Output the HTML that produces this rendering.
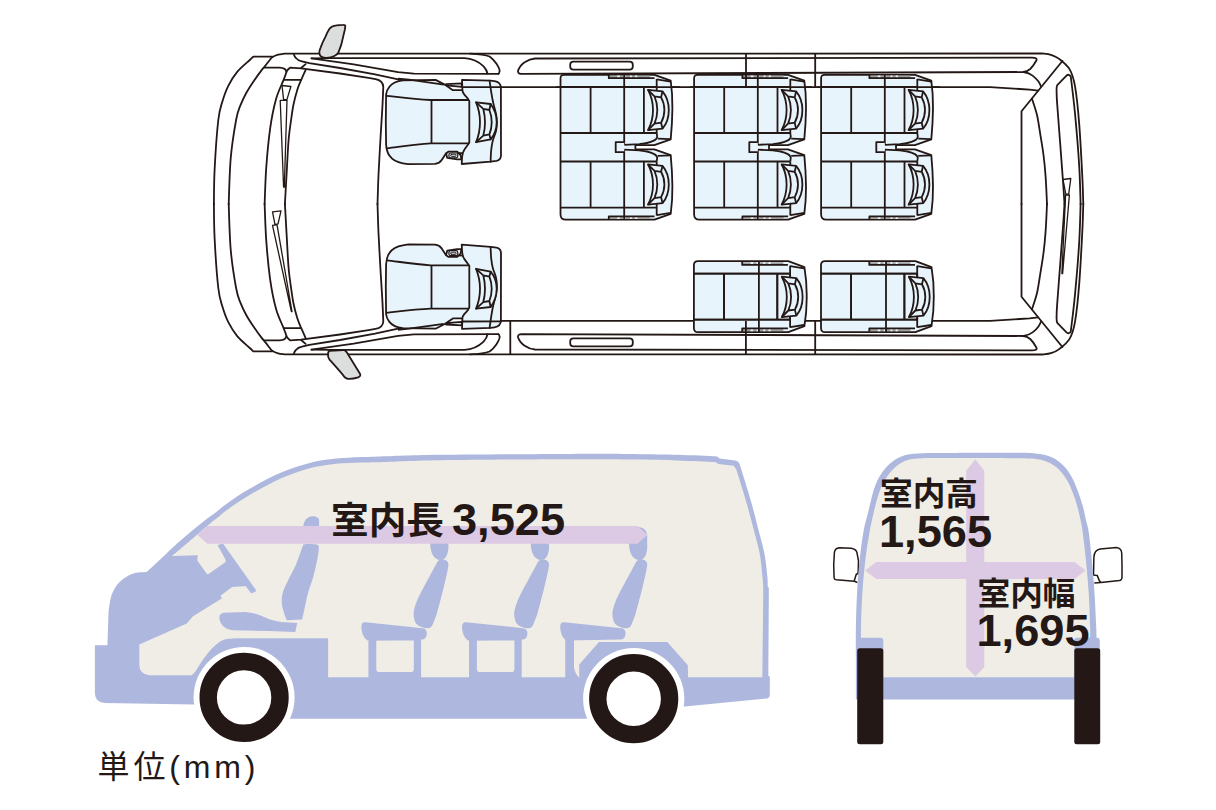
<!DOCTYPE html>
<html lang="ja"><head><meta charset="utf-8"><title>室内寸法</title>
<style>
html,body{margin:0;padding:0;background:#fff;font-family:"Liberation Sans",sans-serif;}
svg{display:block;}
</style></head>
<body>
<svg role="img" aria-label="室内寸法図: 室内長 3,525 / 室内高 1,565 / 室内幅 1,695 単位(mm)" width="1216" height="810" viewBox="0 0 1216 810">
<rect width="1216" height="810" fill="#fff"/>
<!-- ===== TOP VIEW ===== -->
<defs>
  <g id="halfbody" fill="none" stroke="#231815" stroke-width="1.8" stroke-linejoin="round" stroke-linecap="round">
    <!-- outermost bumper curve -->
    <path d="M213.9,204.3 C214,198.6 213.9,184.1 214.6,170 C215.3,155.9 217,131.4 218.3,120 C219.6,108.6 220.7,107.2 222.4,101.5 C224.1,95.8 225.8,90.8 228.3,85.9 C230.8,81 233.6,76.2 237.2,71.9 C240.8,67.6 247.1,62.5 249.8,60 C252.5,57.5 252.7,57.2 253.3,56.7 L272.4,56.7"/>
    <!-- body front edge + roof side line + rear corner -->
    <path d="M228.7,204.3 C229,196.7 229.5,172.6 230.7,158.5 C231.9,144.4 234.5,128.8 236.1,120 C237.7,111.2 238.5,110.4 240.2,105.9 C241.9,101.5 243.9,97.4 246.1,93.3 C248.3,89.2 251,85.2 253.5,81.5 C256,77.8 259,73.6 260.9,71.1 C262.8,68.6 263.3,68.2 264.8,66.4 C266.3,64.6 268.6,61.5 269.8,60 C271,58.5 270.8,58.1 272.2,57.2 C273.6,56.3 276,55.2 278.1,54.6 C280.2,54 283.7,53.8 284.8,53.6 L1042.4,53.5 L1042.4,53.5 C1043.8,53.7 1048.2,53.9 1051,54.8 C1053.8,55.7 1056.1,56.5 1059.2,58.9 C1062.3,61.3 1067.1,64.9 1069.7,69.4 C1072.3,74 1073.4,77.1 1075,86.2 C1076.6,95.3 1078,108.9 1079.2,123.9 C1080.4,138.9 1081.6,163 1082.3,176.4 C1083,189.8 1083.1,199.7 1083.3,204.3"/>
    <!-- hood line -->
    <path d="M264.4,67.6 L279.6,67.6 C283.5,67.7 286,69 286.4,71.8"/>
    <!-- third curve (cowl outer) -->
    <path d="M264.6,204.3 C264.9,198.3 265.3,181 266.2,168.4 C267.1,155.8 268.5,140.4 270.1,128.9 C271.7,117.4 273.8,107.3 276,99.3 C278.2,91.2 281.7,84.7 283.3,80.6 C284.9,76.5 285,76.3 285.6,74.6 C286.2,72.9 286.4,71.7 287.2,70.5 C288,69.3 289.7,68.2 290.2,67.7 L301.1,68.3 L340,73.5 L368.5,77.9 L375.5,79.1 C380.5,80 383.2,82.5 383.3,87 L383.3,87 C383.1,90.7 382.8,100.1 382.3,108.9 C381.8,117.7 381,129 380.4,140 C379.8,151 379,164.3 378.5,175 C378,185.7 377.7,199.4 377.5,204.3"/>
    <path d="M301.1,68 L305.6,64.1"/>
    <!-- cowl short line -->
    <path d="M284,79.8 L301.2,79.8"/>
    <!-- fourth curve (windshield base) + windshield top edge + right edge -->
    <path d="M284.9,204.3 C285.2,198.3 286.3,179.1 286.9,168.4 C287.5,157.7 287.9,148.2 288.6,140 C289.3,131.8 290.4,124.9 291.2,119.1 C292,113.3 292.4,110 293.4,105 C294.4,100 296,93.9 297.4,89.4 C298.8,85 300.5,81.5 301.9,78.3 C303.3,75.1 305,71.5 305.6,70.2"/>
    <!-- L2 : A pillar upper -->
    <path d="M293.6,53.8 C294.3,56 295,57.2 295.9,58 C297.5,59.9 299.5,60.8 301.9,61.3 L309.3,63.1 L340,68 L375,74.4 L402.8,80.4"/>
    <!-- front door window band -->
    <path d="M311.5,58.3 L353.7,64.4 L398.1,72.1 L413.9,73.7 L498.3,73.8"/>
    <path d="M311.5,58.3 L330,58.2 L464.6,58.2 C472,58.6 479,62 483.6,66.4 C486,69 487,71 487.5,73.7"/>
    <path d="M470,53.6 C480,54 486,55 489.6,56.5 C493,59 495,61.5 496.5,63.8 C498.5,67 500,69.5 499.6,71.2 C499.4,72.8 499,73.6 498.3,73.8"/>
    <!-- rear window band -->
    <path d="M535,58.5 L1031,57.6 C1035.5,57.4 1037.6,58.4 1036.2,60.8 C1034.3,64.3 1032.3,67 1030.2,69 C1028,71 1026,71.8 1023,72 L521,73.9 C518.5,73.8 517.6,72 518.2,70.2 C520,66 522.5,63.5 525.1,62 C528,60 531,58.8 535,58.5 Z"/>
    <!-- grab handle -->
    <rect x="570.2" y="61.6" width="62.6" height="8" rx="3.2"/>
    <!-- gutter curve at rear -->
    <path d="M1023.5,72 C1028,72.8 1030.8,74.2 1032.6,75.6 C1035,77.5 1037,79.5 1038.5,81.6 C1039.6,83.2 1040.4,84.8 1041,86.5"/>
    <!-- interior line -->
    <path d="M463,87.1 L990,87.2 L1019.8,89 L1029.6,89.6 L1038.2,90.7"/>
    <!-- rear diagonal + rear wall -->
    <path d="M1062.4,61 L1021.5,111.3 L1021.5,204.3"/>
    <!-- rear inner curve -->
    <path d="M1032,98.7 C1032.8,101.4 1035.6,109 1037,115 C1038.4,121 1039.2,127.7 1040.3,134.4 C1041.4,141.1 1042.6,148 1043.5,155 C1044.4,162 1045,168.2 1045.6,176.4 C1046.2,184.6 1046.8,199.7 1047,204.3"/>
    <!-- rear glass closed shape -->
    <path d="M1064.5,204.3 C1064.3,201.4 1064.1,196.7 1063.4,186.8 C1062.7,176.9 1061.3,158.9 1060.3,144.9 C1059.2,130.9 1057.7,111.7 1057.1,102.9 C1056.5,94.1 1056.7,93.8 1056.6,92 C1056.4,88 1056.6,86 1057.5,84.8 L1066.5,75.6 C1068,74.2 1069.8,74.6 1070.8,76.7 L1070.8,76.7 C1071.5,82.8 1073.6,98.5 1075,113.4 C1076.4,128.3 1078.3,150.8 1079.2,165.9 C1080.1,181.1 1080.4,197.9 1080.6,204.3"/>
  </g>
  <g id="mirrorT">
    <path fill="#dcdddd" stroke="#231815" stroke-width="1.8" stroke-linejoin="round" d="M319.3,52.5 C319.2,51 319.8,49.5 320.6,47.6 C322,43.5 323.8,40 325.5,36.7 C326.8,33.5 328,31 329.5,28.8 C331,26.8 333.5,25.7 336.4,25.4 C339,25 341.5,24.9 343.3,24.9 Q345.4,24.8 345.3,26.4 C345.2,27.6 345,28.8 344.8,29.8 L341.3,44.6 L338.4,52.5 C337.5,54.3 336,55.3 334.4,56 C332,57.2 329,57.8 326.5,57.9 C324.5,57.9 322.8,57.6 321.6,56.9 C320,56 319.4,54.3 319.3,52.5 Z"/>
  </g>
</defs>
<g id="topview">
  <use href="#halfbody"/>
  <use href="#halfbody" transform="matrix(1 0 0 -1 0 408)"/>
  <!-- bottom-side sliding door front edge -->
  <path fill="none" stroke="#231815" stroke-width="1.8" d="M510.3,321 L510.3,354.4"/>
  <!-- ===== front seat (driver, top) ===== -->
  <defs>
  <g id="fseat" stroke="#231815" stroke-width="1.8" stroke-linejoin="round" stroke-linecap="round">
    <!-- cushion -->
    <path fill="#e8f4fc" d="M470,90.2 L452.9,90.2 L444.7,84.6 L435.6,79.9 L402.8,80.4 C396,81.2 391.5,84 389.4,86.7 C387.3,89.3 386.3,91.8 386.1,94.4 L385.8,122 L386.1,144.4 C386.4,149.5 387.5,153 389.4,155.6 C392,159.5 397,162.4 402.8,163.3 L408.3,164.2 L435,163.9 C438.5,163.5 440.5,161.8 441.7,160 L446.1,153.3 L470,153 Z"/>
    <!-- lever wedge -->
    <path fill="#e8f4fc" d="M446,84.1 L461.8,83.3 L461.8,86.8 L448.8,85.7 Z"/>
    <!-- bolster lines -->
    <path fill="none" d="M386.6,95.8 C400,97.3 415,99.3 430.6,100 L468.6,100 M387,148.3 C400,146.7 415,144.2 430.6,143.3 L468.6,143.3 M431.5,100 L431.5,143.3"/>
    <!-- buckle -->
    <path fill="#e8f4fc" d="M446.1,153.5 L448.3,151.7 L457.2,151.7 L460.6,155 L461.4,159.4 L457.2,159.4 L447.2,157.9 Z"/>
    <rect x="448.9" y="153" width="8.9" height="4.9" rx="1.8" fill="#e8f4fc" stroke-width="1.2"/>
    <rect x="450.6" y="154.2" width="5.5" height="2.2" rx="1" fill="#c9caca" stroke-width="0.9"/>
    <!-- seat back -->
    <path fill="#e8f4fc" d="M462,79.8 L490.5,80.7 L494.5,81.2 C498.8,81.8 500.8,84 500.9,88 L501,155.5 C500.8,158.8 499.2,160.4 496.5,160.9 L490.6,161.7 L461.7,164 L462.1,157 C462.3,154 463,151.5 464.6,149.2 L469.3,142.8 L469.3,101 C468,98 466,96.4 464.6,94.9 C463,93 462.4,91.5 462.4,90 Z"/>
    <path fill="none" d="M462.3,87.1 L500.9,87.2"/>
    <path fill="none" d="M489.6,80.7 C489.9,82.8 490.8,89.4 491.4,93.2 C492,97 492.5,99.8 493.3,103.3 C494.1,106.8 495.4,110.8 496,114 C496.6,117.2 496.9,119.4 496.9,122.2 C496.9,125 496.7,127.9 496,131 C495.3,134.1 493.6,137.4 492.8,140.6 C492,143.8 491.6,146.5 491.2,150 C490.8,153.5 490.7,159.8 490.6,161.7"/>
  </g>
  <g id="fhead" stroke="#231815" stroke-width="1.8" stroke-linejoin="round" stroke-linecap="round">
    <!-- headrest -->
    <path fill="#e8f4fc" d="M476.1,102.4 L490.6,104 C494.5,109 496.6,115 496.7,122.2 C496.6,129 494.5,135 490.6,139.4 L476.1,142.2 C478.8,135.5 480,129 480,122.2 C480,115.5 478.8,109 476.1,102.4 Z"/>
    <path fill="none" d="M483.3,108.9 L489.4,110 C491,114 491.7,118 491.7,122.2 C491.7,126.5 491,130.5 489.4,134.4 L483.3,135.6 C484.5,131 485,126.5 485,122.2 C485,118 484.5,113.5 483.3,108.9 Z M476.1,102.4 L483.3,108.9 M476.1,142.2 L483.3,135.6 M490.6,104 L489.4,110 M490.6,139.4 L489.4,134.4"/>
  </g>
  <!-- ===== rear seat half (local coords, origin = top-left of seat) ===== -->
  <g id="rs-lines" fill="none" stroke="#231815" stroke-width="1.8" stroke-linejoin="round" stroke-linecap="butt">
    <!-- rail bar -->
    <path fill="#9fa0a0" stroke="none" d="M48.6,0.8 H89.4 V3.1 H48.6 Z"/>
    <path stroke="none" fill="#e8f4fc" d="M56.7,0.6 h2.6 v3 h-2.6z M62.7,0.6 h2.4 v3 h-2.4z M69.5,0.6 h1.8 v3 h-1.8z M74.6,0.6 h2.2 v3 h-2.2z"/>
    <path d="M48.3,0 V3.4 H94"/>
    <!-- cushion lines -->
    <path d="M0,12.1 H96.2 M0,58.2 H96.2 M30.1,12.1 V58.2 M83.4,12.1 V58.2"/>
    <!-- seat back right boundary -->
    <path d="M96.2,4.2 V58.2"/>
    <path d="M96.2,4.6 L110.2,6.8"/>
  </g>
  <g id="rs-head" fill="none" stroke="#231815" stroke-width="1.8" stroke-linejoin="round">
    <!-- headrest -->
    <path fill="#e8f4fc" d="M87.5,15 L102,16.5 C106.2,21.5 108.3,28 108.3,35.2 C108.3,42.5 106.2,49 102,53.9 L87.5,55.4 C91,49 92.5,42.5 92.5,35.2 C92.5,28 91,21.5 87.5,15 Z"/>
    <path d="M94,21.6 L100.6,22.6 C102.8,26.5 103.9,30.8 103.9,35.2 C103.9,39.8 102.8,44 100.6,47.9 L94,48.8 C95.9,44.5 96.8,40 96.8,35.2 C96.8,30.5 95.9,26 94,21.6 Z M87.5,15 L94,21.6 M87.5,55.4 L94,48.8 M102,16.5 L100.6,22.6 M102,53.9 L100.6,47.9"/>
  </g>
  <!-- double seat: origin top-left -->
  <g id="dseat">
    <path fill="#e8f4fc" stroke="#231815" stroke-width="1.8" stroke-linejoin="round" d="M0,3.5 Q0,0 3.5,0 H94 L110.2,5.9 C111.5,15 112,24 111.9,33.6 C111.8,44 111.2,54 110.2,64.5 L93.8,70.4 H74.9 V74.5 H93.8 L110.2,80.4 C111.2,91 111.8,101 111.9,111.3 C112,121 111.5,130 110.2,139 L94,144.9 H5.2 Q0,144.9 0,139.7 Z"/>
    <use href="#rs-lines"/>
    <use href="#rs-lines" transform="matrix(1 0 0 -1 0 144.9)"/>
    <use href="#rs-head"/>
    <use href="#rs-head" transform="matrix(1 0 0 -1 0 144.9)"/>
    <g fill="none" stroke="#231815" stroke-width="1.8" stroke-linejoin="round">
      <!-- seat back front line -->
      <path d="M63.7,0 V70 M63.7,74.9 V144.9"/>
      <!-- seat back lower curves -->
      <path d="M96.2,58.2 L96.7,62.2 C96,64.2 95,65 93.8,65.6 C91,67 89,67.6 86.4,68.2 C84,68.8 81.5,69 78.9,69.3 L63.7,70"/>
      <path d="M96.2,86.7 L96.7,82.7 C96,80.7 95,79.9 93.8,79.3 C91,77.9 89,77.3 86.4,76.7 C84,76.1 81.5,75.9 78.9,75.6 L63.7,74.9"/>
      <path d="M97.1,63.8 L110,64.3 M97.1,81.1 L110,80.6"/>
      <!-- connector -->
      <path fill="#e8f4fc" d="M63.7,67.4 H55.2 V77.4 H63.7"/>
    </g>
  </g>
  <!-- single seat -->
  <g id="sseat">
    <path fill="#e8f4fc" stroke="#231815" stroke-width="1.8" stroke-linejoin="round" d="M0,4 Q0,0 4,0 H94.4 L110.5,6 C112.2,16 112.9,26 112.8,35.5 C112.9,45 112.2,55 110.5,65.1 L94.4,71.1 H4 Q0,71.1 0,67.1 Z"/>
    <g transform="translate(0,0.4)"><use href="#rs-lines"/></g>
    <g transform="matrix(1 0 0 -1 0 70.7)"><use href="#rs-lines"/></g>
    <g transform="translate(0.4,0.6)"><use href="#rs-head"/></g>
    <path fill="none" stroke="#231815" stroke-width="1.8" d="M65,0 V71.1"/>
  </g>
  </defs>
  <use href="#fseat"/>
  <use href="#fhead"/>
  <use href="#fseat" transform="matrix(1 0 0 -1 0 408.6)"/>
  <use href="#fhead" transform="matrix(1 0 0 -1 0 411)"/>
  <use href="#dseat" x="560.5" y="74.8"/>
  <use href="#dseat" x="694.1" y="74.8"/>
  <use href="#dseat" x="821.1" y="74.8"/>
  <use href="#sseat" x="693.9" y="261.1"/>
  <use href="#sseat" x="821" y="261.1"/>
  <!-- lines drawn over seats -->
  <g fill="none" stroke="#231815" stroke-width="1.8">
    <path d="M746,53.6 V87.1 M815.2,53.6 V87.1 M745.9,321 V354.3 M815.2,321 V354.3"/>
    <path d="M556,87.2 H680 M690,87.2 H812 M817,87.2 H940"/>
    <path d="M398,78.6 L409.1,79.7 L443.7,84.6 M398,329.8 L409.1,328.7 L443.7,323.8"/>
  </g>
  <!-- wipers -->
  <g id="wiper" fill="none" stroke="#231815" stroke-width="1.3" stroke-linejoin="round">
    <path d="M282,85.5 L290.9,86.5 L286.9,99.6 L283.6,99.6 Z"/>
    <path d="M280.2,100.3 L287,100.3 L284.3,187.2 L283.6,187.2 Z"/>
  </g>
  <g fill="none" stroke="#231815" stroke-width="1.3" stroke-linejoin="round">
    <path d="M272.5,211.8 L281,210.9 L278,223.9 L275,224.6 Z"/>
    <path d="M272.5,225.3 L277,224.7 L292,311.5 L291.4,311.5 Z"/>
  </g>
  <!-- rear wiper -->
  <g fill="none" stroke="#231815" stroke-width="1.3" stroke-linejoin="round">
    <path d="M1063,179.5 L1070.8,178.5 L1068.7,194.2 L1065.8,194.2 Z"/>
    <path d="M1065.6,195 L1069.4,195 L1062.6,273.6 L1061.9,273.6 Z"/>
  </g>
  <use href="#mirrorT"/>
  <path fill="#dcdddd" stroke="#231815" stroke-width="1.8" stroke-linejoin="round" d="M329.4,350.9 L343.5,350 C345,349.9 345.9,350.6 346.6,352 L360,373.8 C360.8,375.5 360.2,376.6 358.1,377.4 C355,378.5 351.5,379 348.2,378.9 C346,378.8 344.6,377.3 343.3,375.4 C338,369 333,363.5 329.5,359.6 C328.2,358 327.8,356.5 328,354.7 C328,353 328.3,351.3 329.4,350.9 Z"/>
</g>
<!-- ===== SIDE VIEW ===== -->
<g id="side">
  <!-- body silhouette -->
  <path fill="#aeb8de" d="M94.9,692 L94.9,645.2 L107.4,645.2 L108.6,611 L108.6,611 C109.1,608.3 109.9,599.6 111.7,594.8 C113.5,590 116.1,585.5 119.6,582 C123.1,578.5 128,575.4 132.5,573.8 C137,572.1 144.3,572.4 146.7,572.1 L146.7,572.1 C150.1,568.9 161.6,558.1 167,553 C172.4,547.9 175.3,545.3 179.4,541.6 C183.5,537.9 187.6,534.5 191.7,531 C195.8,527.5 200,524.1 204.1,520.9 C208.2,517.7 212.9,514.5 216.4,511.9 C219.9,509.2 221.5,507.6 225,505 C228.5,502.4 233.2,498.9 237.3,496.2 C241.4,493.5 245.6,491.2 249.7,488.8 C253.8,486.4 257.9,484 262,481.8 C266.1,479.6 270.3,477.5 274.4,475.6 C278.5,473.7 282.6,471.9 286.7,470.3 C290.8,468.7 295,467.3 299.1,466 C303.2,464.7 307.3,463.5 311.4,462.5 C315.5,461.5 319.7,460.8 323.8,460.1 C327.9,459.5 332,459 336.1,458.6 C340.2,458.2 344.4,457.9 348.5,457.7 C352.6,457.4 356.4,457.3 360.8,457.1 C365.2,456.9 361.8,457.1 375,456.7 C388.2,456.3 407.5,455.3 440,454.8 C472.5,454.3 536.7,454 570,453.9 C603.3,453.8 622.2,454 640,454.2 C657.8,454.4 664.1,454.4 677,454.8 C689.9,455.2 710.5,456.1 717.2,456.4 L719.6,458.5 L735.1,460.4 Q738.6,461 739.4,463.5 L742.5,473.3 L742.5,473.3 C743.9,478 748.4,492.2 751.1,501.7 C753.8,511.1 756.3,521.4 758.5,530 C760.7,538.6 762.9,545.7 764.4,553.5 C765.9,561.3 766.9,571.5 767.4,576.9 C767.9,582.3 767.6,584.5 767.6,586 L768.8,588 L768.8,600 L768.3,675.8 L769.8,676.8 L769.8,694.5 Q769.8,698.2 766.7,698.5 L684.6,706.4 L640,706.4 L640,718.8 L240,718.8 L240,704.6 L194,704.6 L104.8,702.9 C98,702.4 95,699 94.9,692.5 Z"/>
  <!-- interior -->
  <path fill="#f0ede6" d="M172,556 C176.2,552.4 192,539 197.3,534.4 C202.7,529.8 200.9,531.1 204.1,528.5 C207.3,525.9 212.9,521.4 216.4,518.6 C219.9,515.8 221.5,514.1 225,511.5 C228.5,508.9 233.2,505.6 237.3,502.8 C241.4,500.1 245.6,497.5 249.7,495 C253.8,492.5 257.9,490.2 262,488 C266.1,485.8 270.3,483.5 274.4,481.5 C278.5,479.5 282.6,477.8 286.7,476.1 C290.8,474.4 295,472.9 299.1,471.5 C303.2,470.1 307.3,468.8 311.4,467.8 C315.5,466.8 319.7,466.1 323.8,465.4 C327.9,464.7 332,464.2 336.1,463.8 C340.2,463.4 344.4,463.2 348.5,463 C352.6,462.8 356.4,462.6 360.8,462.5 C365.2,462.4 361.8,462.7 375,462.3 C388.2,461.9 407.5,460.7 440,460.2 C472.5,459.7 536.7,459.3 570,459.2 C603.3,459.1 622.2,459.3 640,459.5 C657.8,459.7 664.5,460 677,460.4 C689.5,460.8 708.9,461.7 715.3,462 L718.4,464.1 L733.8,465.7 L736.3,469.6 L736.3,469.6 C737.9,475 743.3,491.6 746.2,501.7 C749.1,511.8 751.5,521.4 753.8,530 C756,538.6 758.2,545.7 759.7,553.5 C761.2,561.3 761.9,571.4 762.5,576.9 C763.1,582.4 763.1,584.7 763.2,586.3 L763.2,600 L762.3,677.3
   L688.1,677.3 L687.8,665.2 L667.3,642 L599,642 L579.2,664.6 L579.2,677.3
   L328.1,677.3 L328.1,638.3 L237,638.3 L237,638.3 C234.7,638.6 227.2,638.5 223.3,640 C219.4,641.5 216.8,643.9 213.5,647 C210.2,650.1 206.6,654.8 203.6,658.8 C200.6,662.8 197.7,668.3 195.7,671 C193.7,673.7 192.4,674.5 191.7,675.2 L149.6,675.2 Q139.3,674.8 139.3,664.6 L139.3,644.6
   L186.8,623.5 L192.7,616.5 L222,598.2 L220.4,595.8 L232.2,587 L247,586 L217.7,545.3 L225.2,559 Q226.5,561.3 224.5,562.8 L209,573.8 Q207.5,574.8 206.4,573.2 L197.8,561.2 Q197.2,560.3 197.3,559 L197.7,555.2 Z"/>
  <!-- steering wheel -->
  <path fill="#aeb8de" d="M217.5,544.9 L223.1,543.7 L255.6,589.4 Q256.5,590.9 255.2,591.8 L252.6,593 Q251.2,593.5 250.3,592.2 L245.3,585.7 L226,559 Z"/>
  <!-- front seat cushion -->
  <path fill="#aeb8de" d="M219.4,618.3 C219.4,614.5 221,613 224,612.7 L244.1,612 C249,612.2 253,613 256.4,614.1 C261,615.8 265,617.7 268.8,619 C273,620.4 277,621.5 281.1,622.1 L297.2,623 L295.3,632 L268.8,631.1 L233,630.2 C226,629.8 220,625.5 219.4,618.3 Z"/>
  <!-- front seat back -->
  <path fill="#aeb8de" d="M286.7,620.2 C286.2,618.8 284.4,614.7 283.6,611.6 C282.8,608.5 281.8,605 281.7,601.7 C281.6,598.4 281.9,595.6 283,591.9 C284.1,588.2 286.4,584 288.5,579.5 C290.6,575 293.5,570.2 295.9,564.7 C298.3,559.2 301.3,549.6 302.7,546.2 C304.1,542.8 303.8,544.8 304.5,544.4 C305.2,544 305.1,543.7 307,543.7 C308.9,543.7 313.9,544 315.7,544.3 C317.5,544.6 317.5,545 318,545.5 C318.5,546 318.9,545.2 318.8,547.4 C318.7,549.6 318.4,553.6 317.5,558.5 C316.6,563.4 314.7,571.4 313.2,577 C311.7,582.6 309.6,587.2 308.3,591.9 C307,596.6 306.2,600.8 305.2,605.4 C304.2,610 302.6,617.2 302.1,619.6 Z"/>
  <!-- front headrest -->
  <path fill="#aeb8de" d="M303.3,527 C303.6,520.5 307,516.6 312.2,516.2 C316.5,516 319.2,517.8 319.1,520.5 L319.1,530 L303.3,530 Z"/>
  <!-- rear seats -->
  <g id="rseat2">
    <path fill="#aeb8de" d="M430.2,536 C430.2,530.5 434,527 439.3,527 C444.6,527 448.4,530.5 448.4,536 L448.4,543 C448.8,549 448,553 446.5,556 C445,558.8 443,559.9 440.5,559.9 C437.5,559.9 435,558.5 433,555.5 C431,552 430.2,548 430.2,543 Z"/>
    <path fill="#aeb8de" d="M436.5,563.5 C438,560 441,558.8 443.5,559.5 C447,560 448.8,562.5 448.4,565.4 C446,580 441,598 436.5,614.8 L432.6,624.7 C431.5,627.5 429,628.6 426.7,628.2 C420,627.5 415.6,624.5 414.8,620.7 C413.6,617.5 413.4,614.5 413.8,610.9 C415.5,603 419,596 422.7,589.1 Z"/>
    <path fill="#aeb8de" d="M361.5,628.6 C361,624 362.5,622 365.4,622.3 L422.7,628.2 C426,628.8 427.3,631.5 426.7,634.6 C426.3,637.5 424.8,639.3 422.7,639.5 L367.4,640.5 C363.5,638 362,633.5 361.5,628.6 Z"/>
    <path fill="#aeb8de" fill-rule="evenodd" d="M368.4,638 L421.1,638 L421.1,678 L368.4,678 Z M376.3,640.5 L413.8,640.5 L413.8,669 Q413.8,672.1 410.8,672.1 L379.3,672.1 Q376.3,672.1 376.3,669 Z"/>
  </g>
  <use href="#rseat2" x="100.6"/>
  <!-- 4th row -->
  <g transform="translate(198.8,0)">
    <path fill="#aeb8de" d="M430.2,536 C430.2,530.5 434,527 439.3,527 C444.6,527 448.4,530.5 448.4,536 L448.4,543 C448.8,549 448,553 446.5,556 C445,558.8 443,559.9 440.5,559.9 C437.5,559.9 435,558.5 433,555.5 C431,552 430.2,548 430.2,543 Z"/>
    <path fill="#aeb8de" d="M436.5,563.5 C438,560 441,558.8 443.5,559.5 C447,560 448.8,562.5 448.4,565.4 C446,580 441,598 436.5,614.8 L432.6,624.7 C431.5,627.5 429,628.6 426.7,628.2 C420,627.5 415.6,624.5 414.8,620.7 C413.6,617.5 413.4,614.5 413.8,610.9 C415.5,603 419,596 422.7,589.1 Z"/>
    <path fill="#aeb8de" d="M361.5,628.6 C361,624 362.5,622 365.4,622.3 L422.7,628.2 C426,628.8 427.3,631.5 426.7,634.6 C426.3,637.5 424.8,639.3 422.7,639.5 L367.4,640.5 C363.5,638 362,633.5 361.5,628.6 Z"/>
    <path fill="#aeb8de" d="M366.4,638 L375.2,638 L375.2,668 C376,672 378,675 380.5,678 L366.4,678 Z"/>
  </g>
  <!-- arrow -->
  <path fill="#dcc9e3" d="M197.3,534.8 L207.4,526 L637.5,526 L647.6,534.8 L637.5,543.7 L207.4,543.7 Z"/>
  <!-- wheels -->
  <circle cx="244.1" cy="697.4" r="50.5" fill="#fff"/>
  <circle cx="633.7" cy="698.7" r="50.6" fill="#fff"/>
  <circle cx="244.1" cy="697.4" r="35.9" fill="none" stroke="#231815" stroke-width="17.4"/>
  <circle cx="633.7" cy="698.7" r="35.9" fill="none" stroke="#231815" stroke-width="17.4"/>
</g>
<!-- ===== REAR VIEW ===== -->
<g id="rear">
  <!-- mirrors -->
  <path fill="#fff" stroke="#231815" stroke-width="1.5" stroke-linejoin="round" d="M839.3,547.7 L851.1,548.3 C854.5,549 856.6,550.5 857,552.8 L858.5,560.9 L858.1,573.5 L856.3,574.3 L854.4,580.2 L854.4,581.3 L836.3,579.8 C835,579.6 834.2,579 834.1,578 L833.7,564.6 L834.4,552.4 C834.8,549.5 836.5,548 839.3,547.7 Z M854.4,581.3 L857.4,582.5"/>
  <path fill="#fff" stroke="#231815" stroke-width="1.5" stroke-linejoin="round" d="M1100.2,549.1 L1116.5,547.6 C1119.5,548 1121.5,550 1121.7,553 L1122,564.6 L1122,577.5 C1121.8,579.5 1120.8,580.4 1119.4,580.6 L1100.9,582.4 L1099.4,580.9 L1097.2,575.4 L1093.5,575 L1093.9,557.2 C1094.2,552.5 1096.5,549.8 1100.2,549.1 Z M1100.9,582.4 L1094.3,583.1"/>
  <!-- body -->
  <path fill="#aeb8de" d="M855.9,699.5 L855.9,660 C855.9,654.4 855.7,637.3 855.9,626.3 C856.1,615.3 856.4,604.9 857,594.2 C857.6,583.5 858.3,572.5 859.4,562.1 C860.5,551.7 861.9,540.4 863.4,532 C864.9,523.6 866.5,518.8 868.3,511.7 C870,504.6 871.8,495.7 873.9,489.4 C876,483.1 878,478.5 881.1,473.9 C884.2,469.3 888.1,464.8 892.2,461.7 C896.3,458.6 900.6,456.4 905.6,455 C910.6,453.6 916.5,453.6 922.2,453.3 C927.9,453 924.5,453.1 940,453 C955.5,452.9 998.8,452.7 1015,452.8 C1031.2,452.9 1031.1,453 1037.2,453.7 C1043.3,454.4 1047.4,455.3 1051.7,457.2 C1056,459.1 1059.7,462 1062.8,465 C1065.9,468 1068.2,470.9 1070.6,475 C1073,479.1 1075.2,484.2 1077.2,489.4 C1079.2,494.6 1081.3,500.9 1082.8,506.1 C1084.3,511.3 1085.1,516.3 1086.1,520.6 C1087.1,524.9 1087.7,525.1 1088.7,532 C1089.7,538.9 1091,551.7 1092,562.1 C1093,572.5 1093.9,583.5 1094.6,594.2 C1095.3,604.9 1095.9,619 1096.2,626.3 C1096.5,633.6 1096.5,635.9 1096.5,637.8 L1097.4,637.8 Q1099.8,638 1099.8,641 L1099.8,699.5 Z"/>
  <!-- interior -->
  <path fill="#f0ede6" d="M861,637.8 C861,635.9 860.8,633.6 861,626.3 C861.2,619 861.6,604.9 862.3,594.2 C863,583.5 863.9,572.5 865.1,562.1 C866.3,551.7 868.1,540.4 869.6,532 C871.1,523.6 872.3,518.4 873.9,511.7 C875.5,505 877.3,497.4 879.4,491.7 C881.5,485.9 883.8,481.5 886.7,477.2 C889.6,472.9 893.2,469 896.7,466.1 C900.2,463.2 903.5,461.3 907.8,460 C912,458.7 916.8,458.6 922.2,458.3 C927.6,458 924.5,458.1 940,458.1 C955.5,458.1 998.8,458.1 1015,458.3 C1031.2,458.5 1031.5,458.4 1037.2,459.2 C1042.9,459.9 1045.7,461 1049.4,462.8 C1053.1,464.6 1056.4,467 1059.4,470 C1062.4,473 1065,476.8 1067.2,480.6 C1069.4,484.4 1071,488.2 1072.8,492.8 C1074.6,497.4 1076.4,503.3 1077.8,508.3 C1079.2,513.3 1080.3,518.8 1081.1,522.8 C1081.9,526.8 1081.9,525.5 1082.7,532 C1083.5,538.5 1085.1,551.7 1086.1,562.1 C1087.1,572.5 1088.1,583.5 1088.8,594.2 C1089.5,604.9 1089.9,619 1090.1,626.3 C1090.3,633.6 1090.1,635.9 1090.1,637.8 L1077,637.8 Q1074.3,637.8 1074.3,641 L1074.3,677.2 L883.3,677.2 L883.3,641 Q883.3,637.8 880.3,637.8 Z"/>
  <!-- arrows -->
  <path fill="#dcc9e3" d="M975.3,459.3 L984.3,470.7 L984.3,666.9 L975.3,676.4 L966.2,666.9 L966.2,470.7 Z"/>
  <path fill="#dcc9e3" d="M865.1,570.5 L876.3,561.9 L1074.5,561.9 L1085.6,570.5 L1074.5,579.1 L876.3,579.1 Z"/>
  <!-- tires -->
  <rect x="857.2" y="648.3" width="26.1" height="96" rx="2.5" fill="#231815"/>
  <rect x="1074.3" y="648.3" width="25.9" height="96" rx="2.5" fill="#231815"/>
</g>
<g id="labels" fill="#231815" font-family="'Liberation Sans', 'Noto Sans CJK JP', sans-serif" font-weight="bold">
<text x="331" y="533.5" font-size="37" textLength="113" lengthAdjust="spacingAndGlyphs">室内長</text>
<text x="452" y="534.8" font-size="44" textLength="113" lengthAdjust="spacingAndGlyphs">3,525</text>
<text x="880" y="504.5" font-size="32" textLength="98" lengthAdjust="spacingAndGlyphs">室内高</text>
<text x="879" y="546.7" font-size="44" textLength="113" lengthAdjust="spacingAndGlyphs">1,565</text>
<text x="977.5" y="604.5" font-size="32" textLength="98" lengthAdjust="spacingAndGlyphs">室内幅</text>
<text x="976.5" y="646.2" font-size="44" textLength="113" lengthAdjust="spacingAndGlyphs">1,695</text>
<text x="97.5" y="778" font-size="32" font-weight="normal" textLength="158" lengthAdjust="spacing">単位(mm)</text>
</g>
</svg>
</body></html>
